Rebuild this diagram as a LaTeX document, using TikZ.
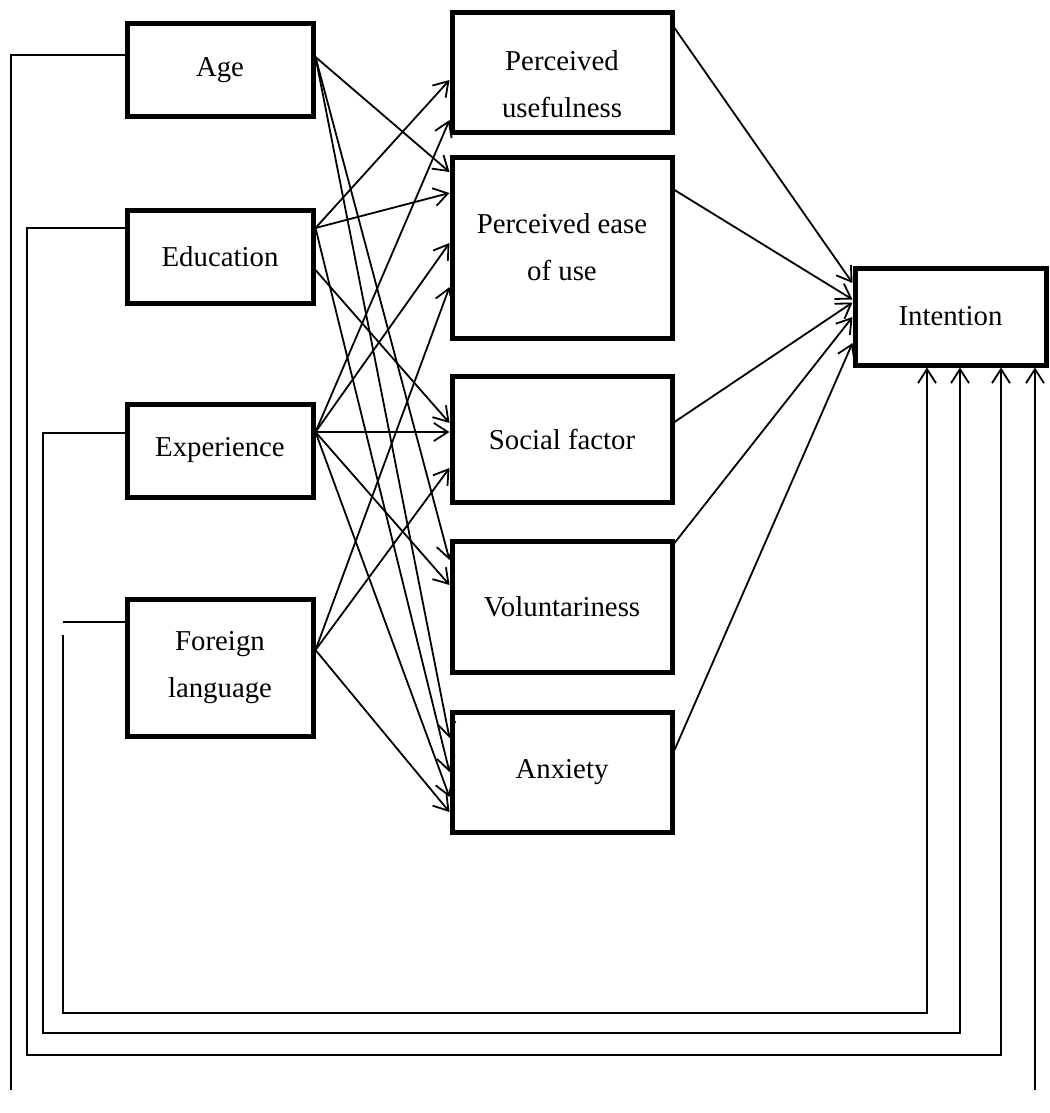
\documentclass[tikz,border=0pt]{standalone}
\usepackage{fontspec}
\setmainfont{Liberation Serif}
\usetikzlibrary{arrows.meta, calc}

\begin{document}
\begin{tikzpicture}[
    x=0.5pt, y=-0.5pt,
    boxtext/.style={align=center, font=\fontsize{14.4}{23.5}\selectfont},
    box/.style={draw, line width=2.5pt, rectangle, inner sep=0pt, boxtext},
    leftbox/.style={box, minimum width=93pt, minimum height=46.5pt},
    midbox/.style={box, minimum width=110pt},
    link/.style={line width=0.9pt, -{Straight Barb[length=7pt, width=9pt]}},
    feed/.style={line width=0.9pt}
  ]

  \useasboundingbox (0,0) rectangle (1049,1113);

  % background variables
  \node [leftbox] (age) at (220,70) {Age};
  \node [leftbox] (edu) at (220,256.5) {Education};
  \node [leftbox] (exp) at (220,450.5) {Experience};
  \node [leftbox, minimum height=68.5pt] (fl) at (220,668) {Foreign\\language};

  % mediators
  \node [midbox, minimum height=60pt,
    label={[boxtext, yshift=-5.5pt]center:Perceived\\usefulness}] (pu) at (562,73) {};
  \node [midbox, minimum height=90.5pt] (peou) at (562,247.5) {Perceived ease\\of use};
  \node [midbox, minimum height=63pt] (soc) at (562,439) {Social factor};
  \node [midbox, minimum height=65.5pt] (vol) at (562,606.5) {Voluntariness};
  \node [midbox, minimum height=60pt] (anx) at (562,772) {Anxiety};

  % outcome
  \node [box, minimum width=95.5pt, minimum height=48.5pt] (intention) at (950.5,316.5) {Intention};

  % variables -> mediators
  \foreach \src/\sdy/\dst/\ddy in {
      age/-13/peou/-75.5, age/-13/vol/-46.5, age/-13/anx/-34,
      edu/-28.5/pu/7, edu/-28.5/peou/-54.5, edu/13.5/soc/-16, edu/-28.5/anx/0,
      exp/-18.5/pu/47, exp/-18.5/peou/-4.5, exp/-18.5/soc/-7, exp/-18.5/vol/-21.5, exp/-18.5/anx/25,
      fl/-18/peou/39.5, fl/-18/soc/29, fl/-18/anx/40}
    \draw [link] ($(\src.east)+(0,\sdy)$) -- ($(\dst.west)+(0,\ddy)$);

  % mediators -> intention
  \foreach \src/\sdy/\ddy in {pu/-45/-33.5, peou/-57.5/-17, soc/-17/-14, vol/-63.5/0.5, anx/-22/26.5}
    \draw [link] ($(\src.east)+(0,\sdy)$) -- ($(intention.west)+(0,\ddy)$);

  % direct paths along the bottom
  \draw [link] ($(fl.west)+(0,-46)$) -- (63,622) (63,635) -- (63,1013) -| ($(intention.south)+(-23.5,0)$);
  \draw [link] ($(exp.west)+(0,-17.5)$) -- (43,433) -- (43,1033) -| ($(intention.south)+(9.5,0)$);
  \draw [link] ($(edu.west)+(0,-28.5)$) -- (27,228) -- (27,1055) -| ($(intention.south)+(50.5,0)$);
  \draw [feed] ($(age.west)+(0,-15)$) -- (11,55) -- (11,1090);
  \coordinate (agefoot) at (1035,1090);
  \draw [link] (agefoot) -- ($(intention.south)+(84.5,0)$);

\end{tikzpicture}
\end{document}
